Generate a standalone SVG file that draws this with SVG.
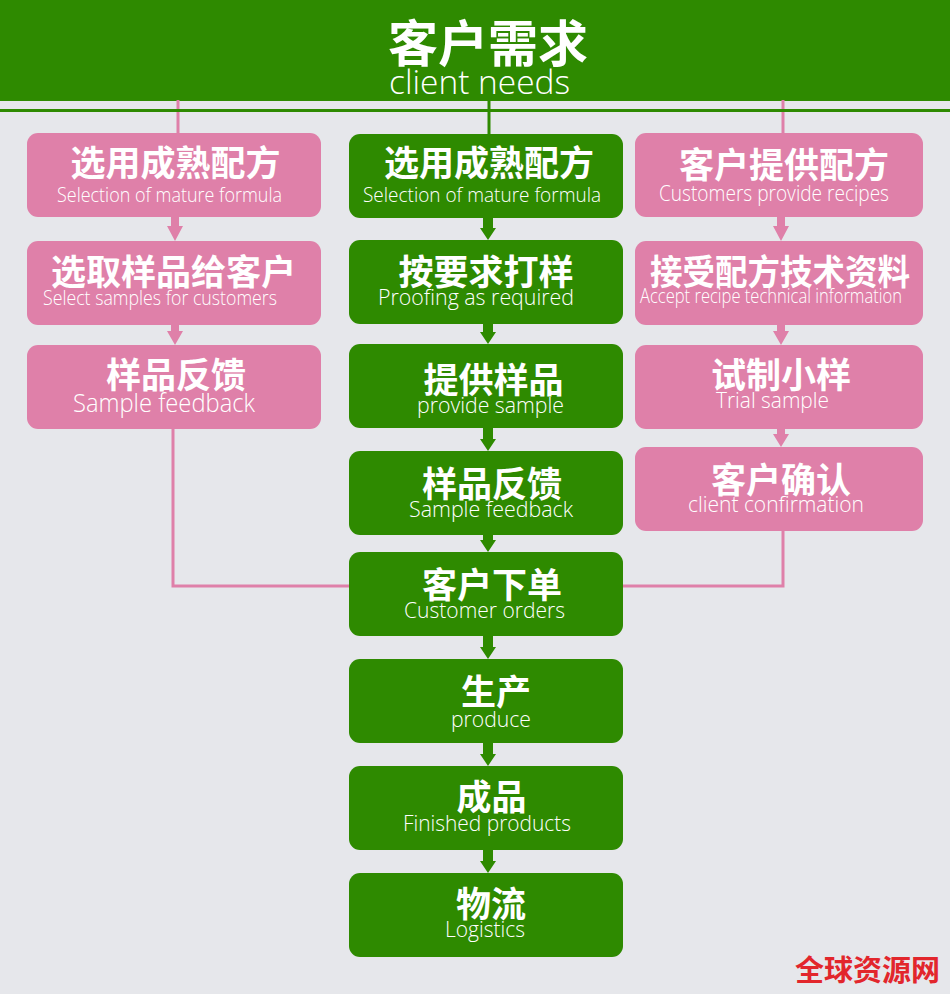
<svg xmlns="http://www.w3.org/2000/svg" width="950" height="994" viewBox="0 0 950 994">
<style>
.bg{fill:#e6e7eb}
.g{fill:#2e8a00}
.p{fill:#df80a9}
.lg{stroke:#2e8a00;stroke-width:3;fill:none}
.lp{stroke:#df80a9;stroke-width:3;fill:none}
.cn{font-family:"Noto Sans CJK SC","Noto Sans CJK TC",sans-serif;font-weight:700;fill:#fff;text-anchor:middle;font-size:35px}
.en{font-family:"Open Sans","Lato","Liberation Sans",sans-serif;font-weight:300;fill:#fff;font-size:22px}
</style>
<rect class="bg" x="0" y="0" width="950" height="994"/>

<g id="header">
<rect class="g" x="0" y="0" width="950" height="101"/>
<text class="cn" x="488" y="62" style="font-size:50px">客户需求</text>
<text class="en" x="389" y="94" style="font-size:33px" textLength="181" lengthAdjust="spacingAndGlyphs">client needs</text>
</g>

<g id="connectors">
<line class="lp" x1="178" y1="100" x2="178" y2="134"/>
<line class="lg" x1="489" y1="100" x2="489" y2="135"/>
<line class="lp" x1="783" y1="100" x2="783" y2="134"/>
<polyline class="lp" points="173,428 173,586 350,586"/>
<polyline class="lp" points="783,530 783,586 622,586"/>
<line class="lg" x1="0" y1="110.5" x2="950" y2="110.5"/>
<polygon class="p" points="171,216 179,216 179,226 183,226 175,241 167,226 171,226"/>
<polygon class="p" points="171,323 179,323 179,331 183,331 175,345 167,331 171,331"/>
<polygon class="p" points="777,216 785,216 785,226 789,226 781,241 773,226 777,226"/>
<polygon class="p" points="777,323 785,323 785,331 789,331 781,345 773,331 777,331"/>
<polygon class="p" points="777,428 785,428 785,434 789,434 781,447 773,434 777,434"/>
<polygon class="g" points="483,217 493,217 493,228 496,228 488,240 480,228 483,228"/>
<polygon class="g" points="483,323 493,323 493,332 496,332 488,344 480,332 483,332"/>
<polygon class="g" points="483,427 493,427 493,439 496,439 488,451 480,439 483,439"/>
<polygon class="g" points="483,534 493,534 493,540 496,540 488,552 480,540 483,540"/>
<polygon class="g" points="483,635 493,635 493,647 496,647 488,659 480,647 483,647"/>
<polygon class="g" points="483,742 493,742 493,754 496,754 488,766 480,754 483,754"/>
<polygon class="g" points="483,849 493,849 493,861 496,861 488,873 480,861 483,861"/>
</g>

<g id="l1">
<rect class="p" x="27" y="133" width="294" height="84" rx="11"/>
<text class="cn" x="175.5" y="176">选用成熟配方</text>
<text class="en" x="57" y="202" style="font-size:21px" textLength="225" lengthAdjust="spacingAndGlyphs">Selection of mature formula</text>
</g>
<g id="l2">
<rect class="p" x="27" y="241" width="294" height="84" rx="11"/>
<text class="cn" x="173.5" y="285">选取样品给客户</text>
<text class="en" x="43" y="305" style="font-size:21px" textLength="234" lengthAdjust="spacingAndGlyphs">Select samples for customers</text>
</g>
<g id="l3">
<rect class="p" x="27" y="345" width="294" height="84" rx="11"/>
<text class="cn" x="176" y="388">样品反馈</text>
<text class="en" x="73" y="412" style="font-size:25px" textLength="182" lengthAdjust="spacingAndGlyphs">Sample feedback</text>
</g>

<g id="c1">
<rect class="g" x="349" y="134" width="274" height="84" rx="11"/>
<text class="cn" x="489" y="176">选用成熟配方</text>
<text class="en" x="363" y="202" style="font-size:21px" textLength="238" lengthAdjust="spacingAndGlyphs">Selection of mature formula</text>
</g>
<g id="c2">
<rect class="g" x="349" y="240" width="274" height="84" rx="11"/>
<text class="cn" x="486" y="285">按要求打样</text>
<text class="en" x="378" y="305" textLength="196" lengthAdjust="spacingAndGlyphs">Proofing as required</text>
</g>
<g id="c3">
<rect class="g" x="349" y="344" width="274" height="84" rx="11"/>
<text class="cn" x="493.5" y="393">提供样品</text>
<text class="en" x="417" y="413" textLength="147" lengthAdjust="spacingAndGlyphs">provide sample</text>
</g>
<g id="c4">
<rect class="g" x="349" y="451" width="274" height="84" rx="11"/>
<text class="cn" x="492" y="497">样品反馈</text>
<text class="en" x="409" y="517" textLength="164" lengthAdjust="spacingAndGlyphs">Sample feedback</text>
</g>
<g id="c5">
<rect class="g" x="349" y="552" width="274" height="84" rx="11"/>
<text class="cn" x="492" y="598">客户下单</text>
<text class="en" x="404" y="618" textLength="161" lengthAdjust="spacingAndGlyphs">Customer orders</text>
</g>
<g id="c6">
<rect class="g" x="349" y="659" width="274" height="84" rx="11"/>
<text class="cn" x="496" y="705">生产</text>
<text class="en" x="451" y="727" textLength="80" lengthAdjust="spacingAndGlyphs">produce</text>
</g>
<g id="c7">
<rect class="g" x="349" y="766" width="274" height="84" rx="11"/>
<text class="cn" x="491.5" y="810">成品</text>
<text class="en" x="403" y="831" textLength="168" lengthAdjust="spacingAndGlyphs">Finished products</text>
</g>
<g id="c8">
<rect class="g" x="349" y="873" width="274" height="84" rx="11"/>
<text class="cn" x="491" y="917">物流</text>
<text class="en" x="445" y="937" textLength="80" lengthAdjust="spacingAndGlyphs">Logistics</text>
</g>

<g id="r1">
<rect class="p" x="635" y="133" width="288" height="84" rx="11"/>
<text class="cn" x="784" y="178">客户提供配方</text>
<text class="en" x="659" y="201" textLength="230" lengthAdjust="spacingAndGlyphs">Customers provide recipes</text>
</g>
<g id="r2">
<rect class="p" x="635" y="241" width="288" height="84" rx="11"/>
<text class="cn" x="780" y="285" textLength="260" lengthAdjust="spacingAndGlyphs">接受配方技术资料</text>
<text class="en" x="640" y="303" style="font-size:21px" textLength="262" lengthAdjust="spacingAndGlyphs">Accept recipe technical information</text>
</g>
<g id="r3">
<rect class="p" x="635" y="345" width="288" height="84" rx="11"/>
<text class="cn" x="781" y="388">试制小样</text>
<text class="en" x="716" y="408" textLength="113" lengthAdjust="spacingAndGlyphs">Trial sample</text>
</g>
<g id="r4">
<rect class="p" x="635" y="447" width="288" height="84" rx="11"/>
<text class="cn" x="781" y="493">客户确认</text>
<text class="en" x="688" y="512" textLength="176" lengthAdjust="spacingAndGlyphs">client confirmation</text>
</g>

<text x="867.5" y="981" style="font-family:'Noto Sans CJK SC',sans-serif;font-weight:700;font-size:29px;fill:#e2262c;text-anchor:middle" textLength="145" lengthAdjust="spacingAndGlyphs">全球资源网</text>
</svg>
